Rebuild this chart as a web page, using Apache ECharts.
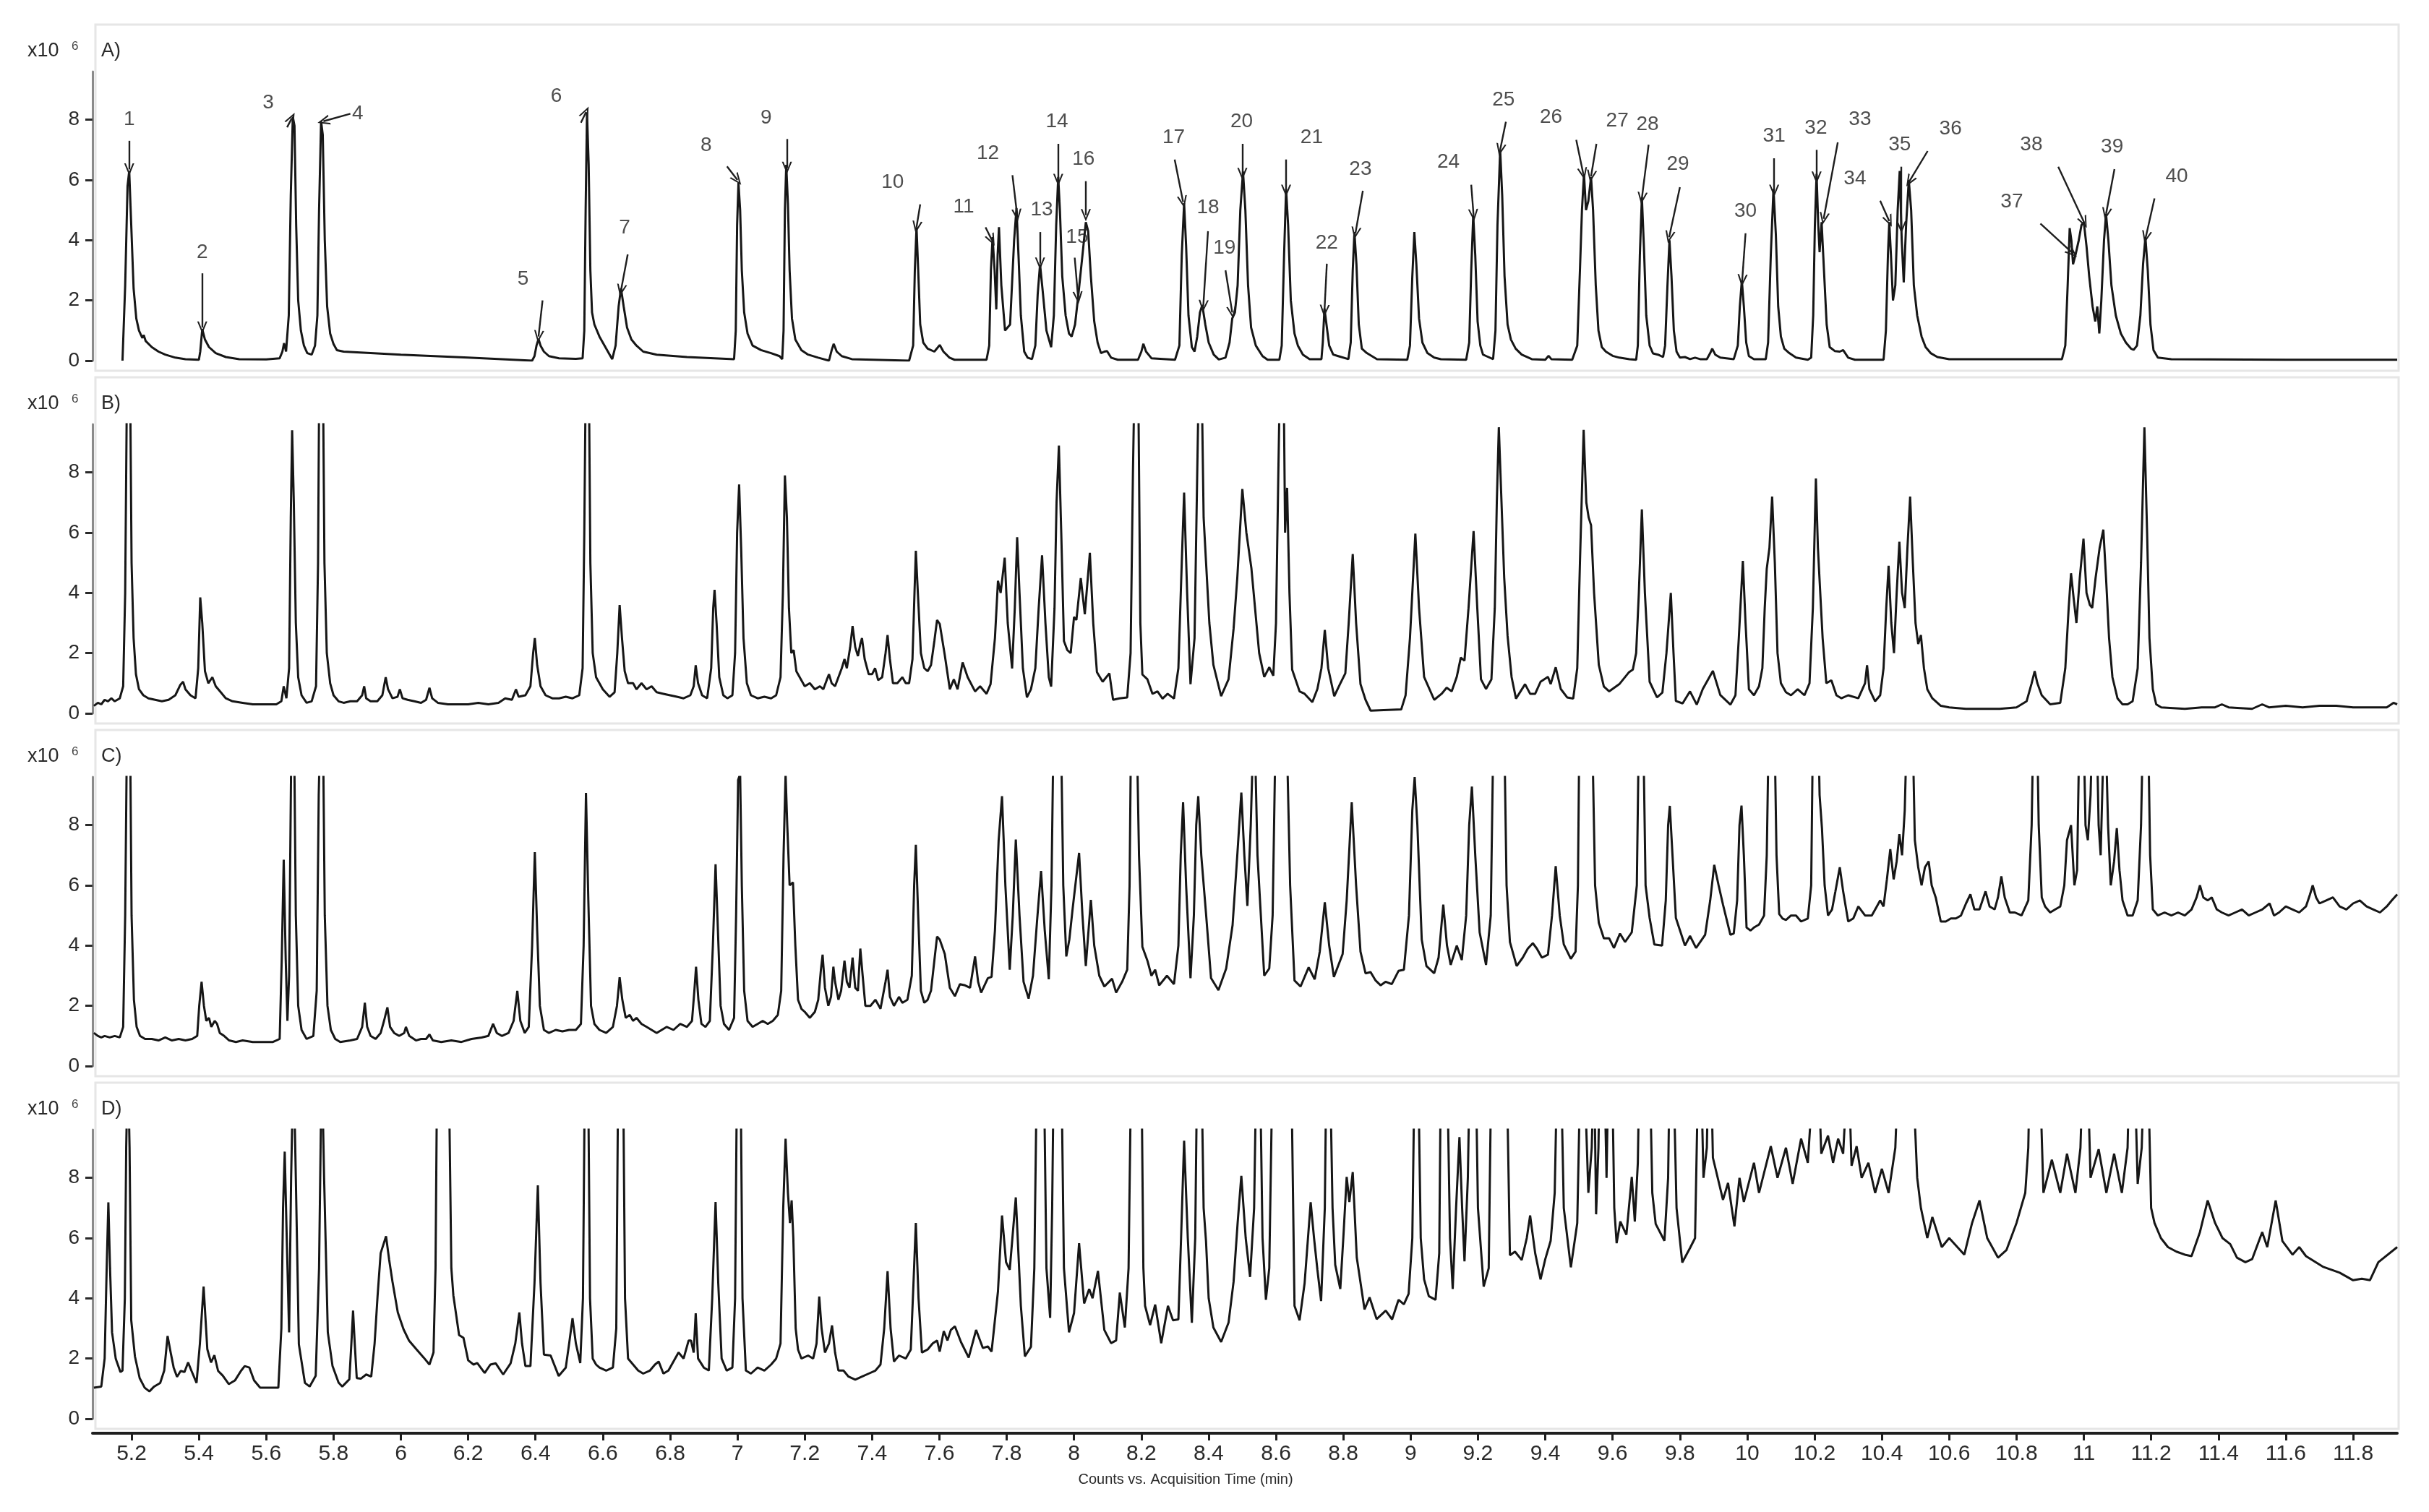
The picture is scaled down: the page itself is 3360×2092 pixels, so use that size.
<!DOCTYPE html>
<html><head><meta charset="utf-8">
<script src="https://cdn.jsdelivr.net/npm/echarts@6/dist/echarts.min.js"></script>
<style>html,body{margin:0;padding:0;background:#fff}#c{width:3360px;height:2092px}</style>
</head><body><div id="c"></div>
<script>
// ---------- tick labels ----------
const xTickValues = [5.2,5.4,5.6,5.8,6,6.2,6.4,6.6,6.8,7,7.2,7.4,7.6,7.8,8,8.2,8.4,8.6,8.8,9,9.2,9.4,9.6,9.8,10,10.2,10.4,10.6,10.8,11,11.2,11.4,11.6,11.8];
const yTickValues = [0,2,4,6,8];
const panelNames = ['A)','B)','C)','D)'];
const xAxisTitle = 'Counts vs. Acquisition Time (min)';

// ---------- chromatogram A (time min, counts x10^6) ----------
const traceA = [[5.173,0],[5.181,2.5],[5.188,5.8],[5.193,6.3],[5.199,4.5],[5.206,2.4],[5.214,1.4],[5.222,1.0],[5.232,0.75],[5.236,0.85],[5.242,0.65],[5.26,0.45],[5.28,0.3],[5.30,0.2],[5.33,0.1],[5.36,0.05],[5.40,0.03],
[5.404,0.3],[5.41,1.05],[5.418,0.7],[5.43,0.45],[5.45,0.25],[5.48,0.12],[5.52,0.05],[5.60,0.04],[5.64,0.08],
[5.648,0.3],[5.653,0.58],[5.659,0.3],[5.667,1.5],[5.673,5.5],[5.679,8.1],[5.684,7.8],[5.689,4.5],[5.695,2.0],[5.703,1.0],[5.712,0.5],[5.722,0.25],[5.735,0.2],[5.745,0.5],
[5.752,1.5],[5.757,5.0],[5.763,7.95],[5.768,7.5],[5.774,4.0],[5.781,1.8],[5.790,0.9],[5.800,0.55],[5.81,0.35],[5.83,0.3],[6.0,0.2],[6.2,0.1],[6.39,0.0],
[6.397,0.15],[6.403,0.5],[6.409,0.72],[6.415,0.5],[6.425,0.3],[6.44,0.15],[6.47,0.08],[6.52,0.06],[6.54,0.08],
[6.545,1.0],[6.549,5],[6.553,8.25],[6.558,6.5],[6.563,3.0],[6.568,1.6],[6.575,1.2],[6.59,0.8],[6.61,0.4],[6.628,0.05],
[6.638,0.5],[6.647,1.8],[6.654,2.4],[6.662,1.8],[6.672,1.1],[6.685,0.7],[6.70,0.5],[6.72,0.3],[6.76,0.2],[6.85,0.12],[6.99,0.05],
[6.995,1.0],[6.999,4.5],[7.003,5.9],[7.008,5.0],[7.013,3.0],[7.02,1.6],[7.03,0.9],[7.045,0.5],[7.07,0.35],[7.10,0.25],[7.125,0.15],[7.133,0.05],
[7.137,1.0],[7.141,5.0],[7.145,6.5],[7.15,5.2],[7.155,3.0],[7.162,1.4],[7.172,0.7],[7.19,0.35],[7.21,0.2],[7.24,0.1],[7.272,0.0],
[7.28,0.35],[7.286,0.56],[7.295,0.3],[7.31,0.15],[7.34,0.05],[7.51,0.0],
[7.522,0.5],[7.527,3.0],[7.532,4.43],[7.537,3.0],[7.543,1.2],[7.552,0.6],[7.565,0.4],[7.585,0.3],[7.601,0.52],[7.612,0.3],[7.63,0.1],[7.645,0.03],[7.74,0.03],
[7.748,0.5],[7.753,3.0],[7.758,4.1],[7.764,3.0],[7.769,1.7],[7.773,3.5],[7.777,4.43],[7.784,2.5],[7.795,1.0],[7.81,1.2],[7.822,4.0],[7.829,5.07],[7.835,3.5],[7.842,1.5],[7.852,0.3],[7.862,0.1],[7.875,0.05],
[7.885,0.5],[7.892,2.2],[7.899,3.2],[7.907,2.3],[7.918,1.0],[7.932,0.45],
[7.94,1.5],[7.947,4.5],[7.953,6.1],[7.958,5.0],[7.965,2.8],[7.975,1.5],[7.985,0.9],[7.993,0.8],[8.003,1.2],[8.012,2.1],[8.025,3.5],
[8.035,4.6],[8.042,4.3],[8.05,2.8],[8.06,1.3],[8.07,0.6],[8.08,0.25],[8.09,0.3],[8.098,0.32],[8.11,0.1],[8.13,0.03],[8.19,0.03],
[8.2,0.3],[8.206,0.56],[8.214,0.3],[8.23,0.08],[8.3,0.03],
[8.313,0.5],[8.32,3.5],[8.327,5.23],[8.333,3.8],[8.34,1.5],[8.35,0.45],[8.358,0.3],
[8.366,0.8],[8.374,1.6],[8.381,1.85],[8.39,1.2],[8.40,0.6],[8.415,0.2],[8.43,0.04],[8.45,0.1],
[8.462,0.6],[8.47,1.4],[8.478,1.6],[8.486,2.5],[8.494,5.0],[8.502,6.28],[8.509,5.0],[8.517,2.5],[8.526,1.1],[8.54,0.5],[8.56,0.15],[8.575,0.03],[8.61,0.03],
[8.617,0.5],[8.624,3.5],[8.63,5.7],[8.636,4.5],[8.644,2.0],[8.655,0.9],[8.665,0.5],[8.68,0.2],[8.7,0.05],[8.735,0.05],
[8.739,0.6],[8.744,1.73],[8.75,1.2],[8.758,0.5],[8.77,0.2],[8.785,0.15],[8.815,0.05],
[8.822,0.6],[8.828,3.0],[8.833,4.27],[8.839,3.2],[8.846,1.2],[8.855,0.4],[8.87,0.25],[8.885,0.15],[8.90,0.05],[8.99,0.03],
[8.998,0.5],[9.005,2.8],[9.011,4.27],[9.017,3.2],[9.025,1.4],[9.035,0.6],[9.05,0.25],[9.07,0.1],[9.09,0.05],[9.165,0.03],
[9.174,0.6],[9.18,3.0],[9.186,4.83],[9.192,3.5],[9.199,1.3],[9.207,0.5],[9.215,0.2],[9.225,0.15],[9.245,0.05],
[9.252,1.0],[9.258,4.5],[9.266,7.0],[9.272,5.5],[9.279,2.8],[9.288,1.2],[9.298,0.7],[9.312,0.4],[9.33,0.2],[9.36,0.05],[9.40,0.03],[9.41,0.16],[9.418,0.05],[9.48,0.03],
[9.495,0.5],[9.503,3.0],[9.509,5.0],[9.515,6.2],[9.521,5.0],[9.528,5.3],[9.536,6.1],[9.542,5.0],[9.55,2.5],[9.558,1.0],[9.568,0.45],[9.58,0.3],[9.6,0.16],[9.62,0.1],[9.65,0.05],[9.67,0.03],
[9.675,0.5],[9.681,3.5],[9.687,5.43],[9.693,3.8],[9.70,1.5],[9.71,0.5],[9.72,0.24],[9.735,0.2],[9.75,0.12],
[9.756,0.5],[9.763,2.5],[9.769,4.0],[9.775,2.8],[9.782,1.0],[9.79,0.3],[9.80,0.1],[9.815,0.12],[9.83,0.05],[9.845,0.1],[9.86,0.05],[9.88,0.05],
[9.89,0.25],[9.896,0.4],[9.905,0.2],[9.92,0.1],[9.96,0.05],
[9.972,0.5],[9.978,1.8],[9.984,2.66],[9.99,1.8],[9.997,0.6],[10.005,0.15],[10.02,0.05],[10.055,0.05],
[10.062,0.6],[10.07,3.5],[10.078,5.7],[10.085,4.2],[10.092,1.8],[10.1,0.8],[10.11,0.4],[10.125,0.25],[10.145,0.1],[10.18,0.03],[10.19,0.1],
[10.196,1.5],[10.201,4.5],[10.206,6.2],[10.211,4.5],[10.215,3.6],[10.221,4.6],[10.228,3.0],[10.236,1.2],[10.245,0.45],[10.26,0.32],[10.275,0.3],[10.285,0.35],[10.30,0.1],[10.32,0.03],[10.405,0.03],
[10.412,1.0],[10.418,3.5],[10.422,4.6],[10.427,3.5],[10.433,2.0],[10.44,2.5],[10.447,5.0],[10.453,6.3],[10.459,4.0],[10.465,2.6],[10.472,4.5],[10.48,6.0],[10.487,5.0],[10.495,2.5],[10.505,1.5],[10.518,0.8],[10.53,0.45],[10.545,0.25],[10.565,0.12],[10.6,0.05],[10.935,0.05],
[10.945,0.5],[10.952,2.5],[10.958,4.4],[10.963,4.0],[10.968,3.2],[10.975,3.5],[10.985,4.0],[10.993,4.5],[11.0,4.6],[11.008,3.8],[11.016,2.8],[11.026,1.8],[11.034,1.3],[11.04,1.8],[11.046,0.9],[11.052,2.0],[11.06,4.0],[11.066,4.87],[11.073,4.0],[11.082,2.5],[11.095,1.5],[11.11,0.9],[11.125,0.6],[11.14,0.4],[11.148,0.36],[11.158,0.5],
[11.168,1.5],[11.176,3.2],[11.183,4.1],[11.19,3.0],[11.198,1.2],[11.207,0.35],[11.22,0.1],[11.26,0.05],[11.6,0.03],[11.931,0.03]];

// ---------- chromatogram B ----------
const traceB = [[5.088,0.25],[5.10,0.35],[5.11,0.3],[5.12,0.45],[5.13,0.4],[5.14,0.5],[5.15,0.4],[5.165,0.5],[5.175,0.9],[5.181,4],[5.187,12],[5.195,12],[5.2,5],[5.206,2.5],[5.213,1.3],[5.222,0.8],[5.235,0.6],[5.25,0.5],[5.27,0.45],[5.29,0.4],[5.31,0.45],[5.33,0.6],[5.345,0.95],[5.353,1.05],[5.36,0.8],[5.375,0.6],[5.39,0.5],[5.398,1.5],[5.404,3.85],[5.41,3.0],[5.418,1.4],[5.428,1.0],[5.44,1.2],[5.45,0.9],[5.465,0.7],[5.48,0.5],[5.5,0.4],[5.53,0.35],[5.56,0.3],[5.6,0.3],[5.63,0.3],[5.645,0.4],[5.652,0.9],[5.66,0.5],[5.668,1.5],[5.673,6.5],[5.677,9.4],[5.682,7.0],[5.688,3.0],[5.695,1.2],[5.705,0.6],[5.72,0.35],[5.735,0.4],[5.748,0.9],[5.754,5.0],[5.758,12],[5.768,12],[5.773,5],[5.78,2.0],[5.79,1.0],[5.8,0.6],[5.815,0.4],[5.83,0.35],[5.85,0.4],[5.87,0.4],[5.885,0.6],[5.891,0.9],[5.897,0.5],[5.91,0.4],[5.93,0.4],[5.945,0.6],[5.955,1.2],[5.962,0.8],[5.975,0.5],[5.99,0.55],[5.997,0.8],[6.005,0.5],[6.02,0.45],[6.04,0.4],[6.06,0.35],[6.075,0.45],[6.085,0.85],[6.093,0.5],[6.11,0.35],[6.14,0.3],[6.17,0.3],[6.2,0.3],[6.23,0.35],[6.26,0.3],[6.29,0.35],[6.31,0.5],[6.33,0.45],[6.342,0.8],[6.35,0.55],[6.37,0.6],[6.385,0.9],[6.393,2.0],[6.398,2.5],[6.405,1.6],[6.415,0.9],[6.43,0.6],[6.45,0.5],[6.47,0.5],[6.49,0.55],[6.51,0.5],[6.53,0.6],[6.54,1.5],[6.545,6],[6.55,12],[6.558,12],[6.563,5],[6.57,2.0],[6.58,1.2],[6.6,0.8],[6.62,0.55],[6.635,0.7],[6.643,2.0],[6.65,3.6],[6.657,2.5],[6.665,1.4],[6.675,1.0],[6.69,1.0],[6.70,0.8],[6.715,1.0],[6.73,0.8],[6.745,0.9],[6.76,0.7],[6.78,0.65],[6.8,0.6],[6.82,0.55],[6.84,0.5],[6.86,0.6],[6.87,0.9],[6.876,1.6],[6.883,1.0],[6.895,0.6],[6.91,0.5],[6.922,1.5],[6.928,3.5],[6.932,4.1],[6.938,3.0],[6.946,1.2],[6.958,0.6],[6.97,0.5],[6.985,0.6],[6.993,2.0],[6.999,6.0],[7.005,7.6],[7.011,5.5],[7.018,2.5],[7.028,1.0],[7.04,0.6],[7.06,0.5],[7.08,0.55],[7.1,0.5],[7.115,0.6],[7.128,1.2],[7.135,4.0],[7.141,7.9],[7.147,6.5],[7.153,3.5],[7.16,2.0],[7.167,2.1],[7.175,1.4],[7.19,1.1],[7.2,0.9],[7.215,1.0],[7.23,0.8],[7.245,0.9],[7.255,0.8],[7.265,1.1],[7.272,1.3],[7.28,1.0],[7.29,0.9],[7.3,1.2],[7.31,1.5],[7.318,1.8],[7.325,1.5],[7.335,2.2],[7.342,2.9],[7.35,2.2],[7.358,1.9],[7.365,2.3],[7.37,2.5],[7.378,1.8],[7.39,1.3],[7.4,1.3],[7.409,1.5],[7.418,1.1],[7.43,1.2],[7.44,2.0],[7.446,2.6],[7.453,1.8],[7.462,1.0],[7.475,1.0],[7.49,1.2],[7.5,1.0],[7.51,1.0],[7.52,1.8],[7.526,4.0],[7.53,5.4],[7.536,4.0],[7.545,2.0],[7.555,1.5],[7.565,1.4],[7.575,1.6],[7.585,2.4],[7.593,3.1],[7.601,2.97],[7.616,1.93],[7.631,0.8],[7.643,1.13],[7.654,0.8],[7.669,1.69],[7.684,1.2],[7.706,0.73],[7.721,0.9],[7.74,0.65],[7.752,0.97],[7.765,2.5],[7.774,4.4],[7.782,4.0],[7.794,5.17],[7.803,3.0],[7.816,1.49],[7.824,3.5],[7.831,5.85],[7.838,4.0],[7.848,1.5],[7.86,0.53],[7.872,0.8],[7.885,1.5],[7.895,3.5],[7.905,5.25],[7.915,3.0],[7.925,1.2],[7.932,0.89],[7.942,3.5],[7.948,7.0],[7.955,8.89],[7.962,6.0],[7.97,2.4],[7.98,2.1],[7.99,2.0],[8.0,3.2],[8.007,3.1],[8.02,4.49],[8.032,3.29],[8.047,5.33],[8.057,3.0],[8.068,1.37],[8.085,1.05],[8.105,1.33],[8.116,0.45],[8.135,0.5],[8.158,0.53],[8.168,2.0],[8.175,8.0],[8.181,12],[8.19,12],[8.197,3.0],[8.203,1.29],[8.218,1.13],[8.233,0.65],[8.248,0.73],[8.263,0.49],[8.278,0.65],[8.297,0.49],[8.31,1.5],[8.32,5.0],[8.327,7.33],[8.336,4.0],[8.346,0.97],[8.358,2.5],[8.366,8.0],[8.372,12],[8.378,12],[8.385,6.5],[8.392,5.05],[8.402,3.0],[8.414,1.61],[8.437,0.57],[8.459,1.13],[8.474,2.81],[8.485,4.5],[8.5,7.45],[8.512,6.0],[8.527,4.81],[8.55,2.0],[8.565,1.21],[8.58,1.53],[8.592,1.25],[8.6,3.0],[8.607,8.0],[8.613,12],[8.622,12],[8.627,6.0],[8.633,7.49],[8.64,4.0],[8.648,1.45],[8.67,0.73],[8.685,0.65],[8.708,0.37],[8.723,0.81],[8.735,1.5],[8.745,2.77],[8.755,1.5],[8.773,0.57],[8.79,0.97],[8.806,1.33],[8.816,3.0],[8.828,5.29],[8.838,3.0],[8.851,0.97],[8.866,0.45],[8.881,0.09],[8.972,0.13],[8.985,0.6],[8.998,2.5],[9.014,5.97],[9.025,3.5],[9.04,1.21],[9.07,0.45],[9.092,0.65],[9.107,0.85],[9.122,0.73],[9.137,1.21],[9.149,1.85],[9.16,1.75],[9.172,3.5],[9.187,6.05],[9.198,3.5],[9.209,1.13],[9.224,0.81],[9.24,1.13],[9.25,3.5],[9.256,7.0],[9.262,9.5],[9.27,7.0],[9.278,4.5],[9.288,2.57],[9.3,1.2],[9.313,0.49],[9.34,0.97],[9.355,0.65],[9.37,0.65],[9.386,1.05],[9.408,1.21],[9.416,0.97],[9.431,1.53],[9.446,0.81],[9.465,0.53],[9.483,0.49],[9.495,1.5],[9.503,5.0],[9.514,9.41],[9.522,7.0],[9.529,6.5],[9.536,6.25],[9.545,4.0],[9.559,1.61],[9.574,0.89],[9.59,0.73],[9.62,0.97],[9.649,1.37],[9.66,1.45],[9.67,2.0],[9.678,4.0],[9.687,6.77],[9.696,4.0],[9.71,1.05],[9.732,0.53],[9.748,0.69],[9.76,2.0],[9.773,4.0],[9.781,2.0],[9.788,0.41],[9.808,0.33],[9.83,0.73],[9.85,0.29],[9.868,0.81],[9.898,1.41],[9.92,0.61],[9.95,0.29],
[9.965,0.6],[9.975,2.5],[9.987,5.06],[9.995,3.0],[10.005,0.8],[10.02,0.6],[10.035,0.9],[10.045,1.5],[10.052,3.5],[10.058,4.8],[10.066,5.5],[10.074,7.2],[10.082,5.0],[10.09,2.0],[10.1,1.0],[10.115,0.7],[10.13,0.6],[10.15,0.8],[10.17,0.6],[10.185,1.0],[10.195,3.5],[10.204,7.8],[10.21,5.5],[10.216,4.2],[10.224,2.5],[10.235,1.0],[10.25,1.1],[10.265,0.6],[10.28,0.5],[10.3,0.6],[10.33,0.5],[10.35,1.0],[10.356,1.6],[10.363,0.8],[10.38,0.4],[10.395,0.6],[10.405,1.5],[10.413,3.5],[10.42,4.9],[10.428,3.0],[10.436,2.0],[10.444,4.0],[10.452,5.7],[10.46,4.0],[10.468,3.5],[10.476,5.5],[10.484,7.2],[10.492,5.0],[10.5,3.0],[10.508,2.3],[10.516,2.6],[10.525,1.5],[10.535,0.8],[10.55,0.5],[10.575,0.25],[10.6,0.2],[10.65,0.15],[10.7,0.15],[10.75,0.15],[10.8,0.2],[10.83,0.4],[10.845,1.0],[10.854,1.4],[10.862,1.0],[10.875,0.6],[10.9,0.3],[10.93,0.35],[10.945,1.5],[10.955,3.5],[10.962,4.65],[10.97,3.8],[10.978,3.0],[10.988,4.5],[10.999,5.8],[11.008,4.0],[11.018,3.6],[11.025,3.5],[11.035,4.5],[11.047,5.5],[11.058,6.1],[11.066,4.5],[11.075,2.5],[11.085,1.2],[11.1,0.5],[11.115,0.3],[11.13,0.3],[11.145,0.4],[11.16,1.5],[11.17,5.0],[11.18,9.5],[11.188,6.0],[11.195,2.5],[11.205,0.8],[11.215,0.3],[11.23,0.2],[11.3,0.15],[11.35,0.2],[11.39,0.2],[11.41,0.3],[11.43,0.2],[11.5,0.15],[11.53,0.3],[11.55,0.2],[11.6,0.25],[11.65,0.2],[11.7,0.25],[11.75,0.25],[11.8,0.2],[11.85,0.2],[11.9,0.2],[11.92,0.35],[11.931,0.3]];

// ---------- chromatogram C ----------
const traceC = [[5.088,1.1],[5.10,1.0],[5.11,0.95],[5.12,1.0],[5.135,0.95],[5.15,1.0],[5.165,0.95],[5.175,1.3],[5.181,5],[5.187,12],[5.195,12],[5.2,5],[5.207,2.2],[5.215,1.3],[5.225,1.0],[5.24,0.9],[5.26,0.9],[5.28,0.85],[5.3,0.95],[5.32,0.85],[5.34,0.9],[5.36,0.85],[5.38,0.9],[5.395,1.0],[5.401,2.0],[5.408,2.8],[5.415,2.0],[5.422,1.5],[5.43,1.6],[5.437,1.3],[5.447,1.5],[5.454,1.4],[5.462,1.1],[5.475,1.0],[5.49,0.85],[5.51,0.8],[5.53,0.85],[5.56,0.8],[5.59,0.8],[5.62,0.8],[5.64,0.9],[5.646,3.5],[5.652,6.85],[5.658,3.5],[5.663,1.5],[5.668,3.0],[5.674,10],[5.682,12],[5.688,5],[5.695,2.0],[5.705,1.2],[5.72,0.9],[5.74,1.0],[5.75,2.5],[5.756,9],[5.762,12],[5.768,12],[5.774,5],[5.782,2.0],[5.792,1.2],[5.805,0.9],[5.82,0.8],[5.85,0.85],[5.87,0.9],[5.885,1.3],[5.893,2.1],[5.9,1.3],[5.91,1.0],[5.925,0.9],[5.94,1.1],[5.95,1.5],[5.96,1.95],[5.968,1.3],[5.98,1.1],[5.995,1.0],[6.01,1.1],[6.015,1.3],[6.025,1.0],[6.045,0.85],[6.06,0.9],[6.075,0.9],[6.085,1.05],[6.095,0.85],[6.12,0.8],[6.15,0.85],[6.18,0.8],[6.21,0.9],[6.24,0.95],[6.26,1.0],[6.274,1.4],[6.285,1.1],[6.3,1.0],[6.32,1.1],[6.335,1.5],[6.346,2.5],[6.355,1.5],[6.368,1.1],[6.38,1.3],[6.39,4.0],[6.398,7.1],[6.405,4.5],[6.413,2.0],[6.425,1.2],[6.44,1.1],[6.46,1.2],[6.48,1.15],[6.5,1.2],[6.52,1.2],[6.535,1.4],[6.543,4.0],[6.55,9.07],[6.557,5.5],[6.565,2.0],[6.575,1.4],[6.59,1.2],[6.61,1.1],[6.63,1.3],[6.642,2.0],[6.65,2.95],[6.658,2.2],[6.668,1.6],[6.68,1.7],[6.69,1.5],[6.70,1.6],[6.715,1.4],[6.73,1.3],[6.745,1.2],[6.76,1.1],[6.775,1.2],[6.79,1.3],[6.81,1.2],[6.83,1.4],[6.85,1.3],[6.865,1.5],[6.872,2.5],[6.877,3.3],[6.884,2.2],[6.893,1.4],[6.905,1.3],[6.918,1.5],[6.927,4.0],[6.935,6.7],[6.942,4.5],[6.95,2.0],[6.96,1.4],[6.975,1.2],[6.99,1.6],[6.996,5],[7.002,9.5],[7.008,9.7],[7.013,6.0],[7.02,2.5],[7.03,1.5],[7.045,1.3],[7.06,1.4],[7.075,1.5],[7.09,1.4],[7.105,1.5],[7.12,1.7],[7.13,2.5],[7.137,7.0],[7.143,9.7],[7.148,8.0],[7.155,6.0],[7.165,6.1],[7.172,4.0],[7.18,2.2],[7.19,1.9],[7.2,1.8],[7.215,1.6],[7.23,1.8],[7.24,2.2],[7.248,3.2],[7.253,3.7],[7.26,2.6],[7.27,2.0],[7.278,2.3],[7.285,3.3],[7.29,2.8],[7.3,2.2],[7.308,2.5],[7.318,3.5],[7.325,2.8],[7.333,2.6],[7.342,3.6],[7.35,2.6],[7.358,2.5],[7.365,3.9],[7.372,3.0],[7.38,2.0],[7.395,2.0],[7.41,2.2],[7.425,1.9],[7.44,2.8],[7.446,3.2],[7.453,2.3],[7.465,2.0],[7.48,2.3],[7.49,2.1],[7.505,2.2],[7.518,3.0],[7.525,6.0],[7.53,7.35],[7.537,5.0],[7.545,2.5],[7.555,2.1],[7.565,2.2],[7.575,2.5],[7.585,3.5],[7.593,4.3],[7.601,4.2],[7.616,3.72],[7.631,2.6],[7.646,2.32],[7.661,2.72],[7.676,2.68],[7.691,2.6],[7.706,3.64],[7.715,2.8],[7.724,2.44],[7.744,2.92],[7.755,2.96],[7.765,4.5],[7.776,7.5],[7.786,8.96],[7.796,6.0],[7.809,3.2],[7.818,5.0],[7.827,7.52],[7.838,5.0],[7.85,2.8],[7.865,2.24],[7.878,3.0],[7.89,4.8],[7.902,6.48],[7.913,4.5],[7.925,2.88],[7.933,6.0],[7.94,12],[7.96,12],[7.968,6],[7.977,3.64],[7.986,4.2],[7.996,5.24],[8.015,7.08],[8.025,5.0],[8.035,3.32],[8.043,4.5],[8.05,5.52],[8.06,4.0],[8.075,3.0],[8.09,2.64],[8.113,2.9],[8.125,2.44],[8.143,2.8],[8.158,3.2],[8.165,6.0],[8.17,12],[8.185,12],[8.193,7.0],[8.203,3.96],[8.218,3.5],[8.23,3.0],[8.241,3.2],[8.253,2.68],[8.276,3.0],[8.297,2.72],[8.31,4.0],[8.317,7.0],[8.324,8.76],[8.333,6.0],[8.346,2.92],[8.356,5.0],[8.363,8.0],[8.369,8.96],[8.378,7.0],[8.392,5.08],[8.407,2.92],[8.429,2.52],[8.452,3.24],[8.471,4.68],[8.485,7.0],[8.497,9.08],[8.506,7.0],[8.515,5.32],[8.525,8.0],[8.535,12],[8.545,7.0],[8.565,3.0],[8.58,3.24],[8.59,5.0],[8.6,12],[8.63,12],[8.642,6.0],[8.655,2.84],[8.673,2.64],[8.697,3.28],[8.715,2.88],[8.73,3.8],[8.745,5.44],[8.758,4.0],[8.772,2.96],[8.798,3.72],[8.81,5.5],[8.825,8.76],[8.838,6.0],[8.851,3.8],[8.866,3.08],[8.881,3.12],[8.896,2.84],[8.911,2.68],[8.926,2.8],[8.944,2.72],[8.964,3.16],[8.98,3.2],[8.995,5.0],[9.005,8.5],[9.012,9.6],[9.02,8.0],[9.033,4.2],[9.047,3.32],[9.07,3.08],[9.083,3.6],[9.097,5.36],[9.108,4.0],[9.119,3.36],[9.137,4.0],[9.152,3.52],[9.165,5.0],[9.174,8.0],[9.182,9.28],[9.192,7.0],[9.205,4.44],[9.224,3.36],[9.238,5.0],[9.247,12],[9.277,12],[9.285,6.0],[9.295,4.12],[9.315,3.32],[9.333,3.6],[9.348,3.9],[9.363,4.08],[9.375,3.9],[9.39,3.6],[9.408,3.7],[9.42,5.0],[9.431,6.64],[9.443,5.0],[9.455,4.04],[9.476,3.56],[9.49,3.8],[9.497,6.0],[9.502,12],[9.538,12],[9.548,6.0],[9.559,4.76],[9.574,4.24],[9.59,4.24],[9.604,3.92],[9.622,4.4],[9.637,4.12],[9.657,4.44],[9.672,6.0],[9.679,12],[9.69,12],[9.698,6.0],[9.71,4.92],[9.724,4.04],[9.747,4.0],[9.758,5.5],[9.765,8.0],[9.77,8.64],[9.778,7.0],[9.788,4.92],[9.815,4.0],[9.83,4.32],[9.848,3.92],[9.875,4.36],[9.89,5.5],[9.902,6.68],[9.915,6.0],[9.928,5.36],[9.95,4.36],
[9.96,4.4],[9.97,5.5],[9.977,8.0],[9.983,8.65],[9.99,7.0],[9.998,4.6],[10.01,4.5],[10.02,4.6],[10.035,4.7],[10.05,5.0],[10.058,7.0],[10.065,12],[10.08,12],[10.087,7.0],[10.095,5.05],[10.105,4.9],[10.115,4.85],[10.13,5.0],[10.145,5.0],[10.16,4.8],[10.18,4.9],[10.19,6.0],[10.196,12],[10.21,12],[10.215,9.0],[10.222,7.9],[10.23,6.0],[10.24,5.0],[10.252,5.2],[10.262,5.8],[10.275,6.6],[10.285,5.8],[10.3,4.8],[10.315,4.9],[10.33,5.3],[10.35,5.0],[10.37,5.0],[10.385,5.3],[10.395,5.5],[10.405,5.3],[10.415,6.2],[10.425,7.2],[10.435,6.2],[10.444,6.8],[10.452,7.7],[10.46,7.0],[10.468,8.5],[10.476,12],[10.49,12],[10.498,7.5],[10.508,6.6],[10.518,6.0],[10.528,6.6],[10.539,6.8],[10.548,6.0],[10.56,5.6],[10.575,4.8],[10.59,4.8],[10.605,4.9],[10.62,4.9],[10.635,5.0],[10.65,5.4],[10.663,5.7],[10.675,5.2],[10.69,5.2],[10.708,5.8],[10.72,5.3],[10.735,5.2],[10.745,5.6],[10.755,6.3],[10.765,5.6],[10.78,5.1],[10.795,5.1],[10.815,5.0],[10.835,5.5],[10.845,8.0],[10.851,12],[10.86,12],[10.866,8.0],[10.875,5.6],[10.885,5.3],[10.9,5.1],[10.915,5.2],[10.93,5.3],[10.942,6.0],[10.95,7.5],[10.962,8.0],[10.972,6.0],[10.98,6.5],[10.988,12],[10.998,12],[11.005,8.0],[11.012,7.5],[11.02,9.0],[11.027,12],[11.037,12],[11.044,8.0],[11.05,7.0],[11.057,10],[11.063,12],[11.072,8],[11.08,6.0],[11.09,6.8],[11.098,7.9],[11.106,6.5],[11.115,5.5],[11.13,5.0],[11.145,5.0],[11.16,5.5],[11.17,8.0],[11.177,12],[11.19,12],[11.197,7.0],[11.205,5.2],[11.22,5.0],[11.24,5.1],[11.26,5.0],[11.28,5.1],[11.3,5.0],[11.32,5.2],[11.335,5.6],[11.345,6.0],[11.355,5.6],[11.368,5.5],[11.38,5.6],[11.395,5.2],[11.41,5.1],[11.43,5.0],[11.45,5.1],[11.47,5.2],[11.49,5.0],[11.51,5.1],[11.53,5.2],[11.552,5.4],[11.565,5.0],[11.58,5.1],[11.6,5.3],[11.62,5.2],[11.64,5.1],[11.66,5.3],[11.672,5.7],[11.68,6.0],[11.69,5.6],[11.7,5.4],[11.72,5.5],[11.74,5.6],[11.76,5.3],[11.78,5.2],[11.8,5.4],[11.82,5.5],[11.84,5.3],[11.86,5.2],[11.88,5.1],[11.9,5.3],[11.915,5.5],[11.931,5.7]];

// ---------- chromatogram D ----------
const traceD = [[5.088,1.03],[5.11,1.07],[5.12,2.0],[5.126,5.0],[5.131,7.19],[5.136,5.0],[5.142,2.87],[5.153,1.99],[5.167,1.55],[5.173,1.6],[5.18,4.0],[5.184,9.0],[5.189,12],[5.194,9.0],[5.199,3.27],[5.21,2.07],[5.224,1.35],[5.239,1.03],[5.253,0.91],[5.267,1.07],[5.285,1.19],[5.297,1.6],[5.307,2.75],[5.317,2.15],[5.325,1.7],[5.335,1.39],[5.346,1.59],[5.357,1.55],[5.368,1.87],[5.378,1.59],[5.393,1.19],[5.403,2.5],[5.414,4.39],[5.425,2.31],[5.436,1.87],[5.446,2.11],[5.457,1.59],[5.471,1.43],[5.489,1.15],[5.507,1.27],[5.525,1.59],[5.536,1.75],[5.55,1.7],[5.564,1.27],[5.582,1.03],[5.636,1.03],[5.645,3.0],[5.65,7.0],[5.655,8.87],[5.661,6.0],[5.668,2.87],[5.674,8.0],[5.681,12],[5.688,8.0],[5.697,2.47],[5.715,1.19],[5.729,1.07],[5.747,1.43],[5.757,5.0],[5.765,12],[5.772,8.0],[5.783,2.87],[5.797,1.75],[5.815,1.2],[5.826,1.07],[5.847,1.31],[5.853,2.5],[5.858,3.59],[5.863,2.5],[5.869,1.35],[5.881,1.33],[5.897,1.47],[5.912,1.4],[5.922,2.5],[5.931,4.1],[5.94,5.5],[5.956,6.06],[5.965,5.3],[5.975,4.56],[5.991,3.53],[6.008,2.97],[6.024,2.6],[6.046,2.31],[6.068,2.03],[6.085,1.8],[6.097,2.2],[6.103,5.0],[6.108,12],[6.142,12],[6.15,5.0],[6.156,4.1],[6.173,2.78],[6.186,2.69],[6.2,1.94],[6.216,1.8],[6.227,1.85],[6.249,1.52],[6.266,1.8],[6.282,1.84],[6.304,1.47],[6.326,1.84],[6.34,2.5],[6.352,3.53],[6.36,2.5],[6.37,1.75],[6.385,1.75],[6.397,4.5],[6.407,7.75],[6.415,4.5],[6.425,2.13],[6.445,2.1],[6.469,1.42],[6.49,1.7],[6.5,2.5],[6.51,3.34],[6.52,2.5],[6.533,1.85],[6.541,4],[6.547,12],[6.556,12],[6.562,4],[6.57,2.0],[6.58,1.8],[6.59,1.7],[6.61,1.6],[6.63,1.7],[6.64,3],[6.646,12],[6.66,12],[6.666,4],[6.675,2.0],[6.69,1.8],[6.705,1.6],[6.72,1.5],[6.74,1.6],[6.755,1.8],[6.766,1.9],[6.78,1.5],[6.795,1.6],[6.81,1.9],[6.825,2.2],[6.84,2.0],[6.855,2.6],[6.862,2.6],[6.87,2.2],[6.876,3.5],[6.883,2.0],[6.9,1.7],[6.915,1.6],[6.925,4.0],[6.935,7.2],[6.943,4.5],[6.953,2.0],[6.968,1.6],[6.985,1.7],[6.993,4.0],[6.999,12],[7.009,12],[7.015,4.0],[7.025,1.6],[7.04,1.5],[7.06,1.7],[7.08,1.6],[7.1,1.8],[7.115,2.0],[7.128,2.5],[7.136,7.0],[7.143,9.3],[7.15,7.5],[7.156,6.5],[7.161,7.25],[7.166,6.0],[7.173,3.0],[7.18,2.3],[7.19,2.0],[7.21,2.1],[7.225,2.0],[7.235,2.5],[7.243,4.06],[7.25,3.0],[7.26,2.2],[7.272,2.5],[7.281,3.1],[7.29,2.2],[7.3,1.6],[7.315,1.6],[7.33,1.4],[7.35,1.3],[7.37,1.4],[7.39,1.5],[7.41,1.6],[7.425,1.8],[7.436,3.0],[7.446,4.9],[7.455,3.0],[7.465,1.9],[7.48,2.1],[7.5,2.0],[7.515,2.3],[7.523,4.5],[7.53,6.5],[7.538,4.0],[7.548,2.2],[7.565,2.3],[7.58,2.5],[7.593,2.6],[7.601,2.23],[7.613,2.91],[7.624,2.6],[7.634,2.95],[7.646,3.07],[7.664,2.55],[7.687,2.03],[7.709,2.95],[7.729,2.35],[7.744,2.4],[7.755,2.23],[7.774,4.23],[7.786,6.75],[7.798,5.2],[7.809,4.95],[7.827,7.35],[7.842,3.75],[7.854,2.07],[7.872,2.39],[7.882,5.0],[7.89,12],[7.91,12],[7.918,5.0],[7.929,3.35],[7.935,7.0],[7.94,12],[7.962,12],[7.97,5.0],[7.985,2.87],[8.0,3.51],[8.015,5.83],[8.03,3.83],[8.045,4.31],[8.055,4.0],[8.071,4.91],[8.09,2.95],[8.11,2.51],[8.125,2.6],[8.136,4.19],[8.151,3.03],[8.162,5.0],[8.17,12],[8.2,12],[8.206,5.0],[8.211,3.75],[8.226,3.11],[8.241,3.79],[8.259,2.51],[8.279,3.75],[8.294,3.27],[8.31,3.3],[8.318,6.0],[8.327,9.23],[8.338,6.0],[8.35,3.19],[8.36,6.0],[8.366,12],[8.378,12],[8.385,7.0],[8.392,5.91],[8.4,4.0],[8.414,3.03],[8.437,2.55],[8.459,3.19],[8.474,4.55],[8.486,6.5],[8.497,8.07],[8.51,6.0],[8.523,4.71],[8.535,7.0],[8.542,12],[8.552,12],[8.56,6.0],[8.57,3.95],[8.58,5.0],[8.59,12],[8.645,12],[8.655,3.75],[8.67,3.27],[8.685,4.5],[8.703,7.19],[8.713,6.0],[8.723,4.95],[8.734,3.91],[8.745,7.0],[8.75,12],[8.76,12],[8.768,7.0],[8.776,5.11],[8.791,4.31],[8.8,6.0],[8.81,8.03],[8.818,7.2],[8.828,8.19],[8.84,5.35],[8.863,3.63],[8.878,4.03],[8.899,3.31],[8.926,3.59],[8.945,3.3],[8.964,3.95],[8.98,3.8],[8.994,4.15],[9.005,6.0],[9.012,12],[9.022,12],[9.03,6.0],[9.04,4.63],[9.054,4.07],[9.074,3.95],[9.085,5.5],[9.09,12],[9.108,12],[9.117,6.0],[9.125,4.31],[9.135,7.0],[9.145,9.35],[9.153,7.0],[9.16,5.23],[9.17,8.0],[9.176,12],[9.193,12],[9.2,7.0],[9.217,4.39],[9.232,5.0],[9.24,12],[9.285,12],[9.295,5.43],[9.31,5.55],[9.33,5.27],[9.345,6.0],[9.355,6.75],[9.37,5.5],[9.386,4.63],[9.4,5.3],[9.416,5.91],[9.428,7.5],[9.436,12],[9.446,12],[9.455,7.0],[9.476,5.03],[9.495,6.5],[9.505,12],[9.515,12],[9.528,7.5],[9.538,9.0],[9.545,12],[9.551,6.79],[9.558,9.0],[9.562,12],[9.575,12],[9.582,8.0],[9.588,12],[9.598,12],[9.605,7.0],[9.612,5.83],[9.623,6.55],[9.641,6.11],[9.657,8.03],[9.666,6.55],[9.675,8.5],[9.68,12],[9.71,12],[9.718,7.5],[9.728,6.47],[9.754,5.91],[9.765,8.0],[9.77,12],[9.78,12],[9.79,7.0],[9.807,5.19],[9.83,5.67],[9.845,6.0],[9.855,12],[9.862,12],[9.87,8.0],[9.88,9.0],[9.885,12],[9.892,12],[9.898,8.67],[9.928,7.27],[9.943,7.83],[9.962,6.39],
[9.977,8.0],[9.99,7.2],[10.02,8.5],[10.035,7.5],[10.07,9.05],[10.09,8.0],[10.115,9.0],[10.135,7.8],[10.16,9.3],[10.18,8.5],[10.2,12],[10.21,12],[10.22,8.8],[10.24,9.4],[10.255,8.5],[10.27,9.3],[10.285,8.8],[10.3,12],[10.31,8.4],[10.325,9.05],[10.34,8.0],[10.36,8.5],[10.38,7.5],[10.40,8.3],[10.42,7.5],[10.44,9],[10.45,12],[10.49,12],[10.505,8.0],[10.516,7.0],[10.535,6.0],[10.55,6.7],[10.578,5.7],[10.6,6.0],[10.645,5.45],[10.668,6.5],[10.69,7.25],[10.713,6.0],[10.745,5.35],[10.77,5.6],[10.8,6.5],[10.826,7.5],[10.835,9],[10.84,12],[10.868,12],[10.88,7.5],[10.905,8.6],[10.93,7.5],[10.95,8.8],[10.975,7.5],[10.99,9],[10.998,12],[11.01,12],[11.02,8.0],[11.044,8.95],[11.067,7.5],[11.09,8.8],[11.113,7.5],[11.13,9],[11.136,12],[11.15,12],[11.16,7.8],[11.172,9],[11.18,12],[11.19,12],[11.2,7.0],[11.21,6.5],[11.229,6.0],[11.25,5.7],[11.275,5.55],[11.3,5.45],[11.32,5.4],[11.345,6.2],[11.368,7.25],[11.39,6.5],[11.412,6.0],[11.435,5.8],[11.455,5.35],[11.48,5.2],[11.5,5.3],[11.53,6.2],[11.545,5.7],[11.57,7.25],[11.59,5.9],[11.62,5.45],[11.64,5.7],[11.66,5.4],[11.71,5.05],[11.76,4.85],[11.80,4.6],[11.826,4.65],[11.85,4.6],[11.875,5.2],[11.931,5.7]];

// ---------- peak annotations (panel A) ----------
const peakLabels = ['1','2','3','4','5','6','7','8','9','10','11','12','13','14','15','16','17','18','19','20','21','22','23','24','25','26','27','28','29','30','31','32','33','34','35','36','37','38','39','40'];
const labelPos = [[5.193,8.0],[5.41,3.6],[5.606,8.57],[5.872,8.2],[6.363,2.7],[6.462,8.77],[6.665,4.4],[6.907,7.15],[7.085,8.06],[7.461,5.92],[7.672,5.11],[7.744,6.88],[7.904,5.0],[7.949,7.93],[8.009,4.1],[8.028,6.68],[8.296,7.4],[8.398,5.07],[8.447,3.74],[8.498,7.93],[8.706,7.4],[8.751,3.9],[8.851,6.36],[9.112,6.6],[9.276,8.66],[9.417,8.09],[9.614,7.97],[9.704,7.85],[9.794,6.52],[9.995,4.95],[10.08,7.45],[10.204,7.73],[10.335,8.01],[10.32,6.04],[10.453,7.17],[10.604,7.69],[10.786,5.27],[10.844,7.17],[11.084,7.09],[11.276,6.12]];
const arrowFrom = [[5.193,7.3],[5.41,2.9],[5.662,7.75],[5.85,8.2],[6.421,2.0],[6.535,7.9],[6.674,3.53],[6.969,6.45],[7.147,7.36],[7.543,5.19],[7.737,4.43],[7.817,6.16],[7.899,4.27],[7.953,7.2],[8.002,3.42],[8.035,5.96],[8.299,6.68],[8.398,4.3],[8.45,3.0],[8.50,7.2],[8.63,6.68],[8.751,3.22],[8.858,5.64],[9.18,5.84],[9.283,7.93],[9.492,7.33],[9.552,7.2],[9.707,7.17],[9.80,5.76],[9.995,4.23],[10.08,6.72],[10.206,7.0],[10.269,7.25],[10.395,5.31],[10.458,6.44],[10.536,6.96],[10.871,4.55],[10.924,6.44],[11.091,6.36],[11.21,5.39]];
const arrowTo = [[5.193,6.35],[5.41,1.1],[5.676,8.05],[5.77,7.95],[6.409,0.8],[6.55,8.25],[6.654,2.33],[7.0,6.0],[7.147,6.4],[7.532,4.43],[7.756,4.0],[7.831,4.83],[7.899,3.22],[7.953,6.0],[8.012,2.09],[8.035,4.83],[8.324,5.27],[8.384,1.81],[8.47,1.6],[8.50,6.2],[8.63,5.64],[8.744,1.65],[8.836,4.23],[9.187,4.83],[9.266,7.0],[9.513,6.2],[9.536,6.12],[9.687,5.39],[9.768,4.1],[9.985,2.66],[10.08,5.64],[10.206,6.08],[10.227,4.71],[10.422,4.63],[10.458,4.43],[10.482,5.96],[10.966,3.58],[11.001,4.59],[11.066,4.87],[11.184,4.1]];

// ---------- layout ----------
const FONT = "'Liberation Sans', Arial, Helvetica, sans-serif";
const traces = [traceA, traceB, traceC, traceD];
const GL = 128, GR = 44, GH = 400, STEP = 488, TOP0 = 99;
const X_MIN = 5.084, X_MAX = 11.931, Y_MAX = 9.6;
const tops = [0,1,2,3].map(i => TOP0 + STEP * i);

const grids = tops.map(t => ({left: GL, right: GR, top: t, height: GH, containLabel: false}));
const xAxes = tops.map((t, i) => ({
  type: 'value', gridIndex: i, min: X_MIN, max: X_MAX, show: i === 3,
  offset: 20,
  axisLine: {show: true, onZero: false, lineStyle: {color: '#1e1e1e', width: 4}},
  axisTick: {show: true, inside: false, length: 10, lineStyle: {color: '#1e1e1e', width: 3}, customValues: xTickValues},
  axisLabel: {show: true, customValues: xTickValues, fontSize: 30, color: '#2a2a2a', margin: 14, fontFamily: FONT,
    formatter: v => String(+(+v).toFixed(1))},
  splitLine: {show: false}
}));
const yAxes = tops.map((t, i) => ({
  type: 'value', gridIndex: i, min: 0, max: Y_MAX, interval: 2,
  axisLine: {show: true, lineStyle: {color: '#8a8a8a', width: 3}},
  axisTick: {show: true, inside: false, length: 10, lineStyle: {color: '#2a2a2a', width: 3}, customValues: yTickValues},
  axisLabel: {show: true, customValues: yTickValues, fontSize: 28, color: '#2a2a2a', margin: 18, fontFamily: FONT},
  splitLine: {show: false}
}));

const series = traces.map((d, i) => ({
  type: 'line', xAxisIndex: i, yAxisIndex: i, data: d,
  showSymbol: false, symbol: 'none', clip: true, smooth: false,
  lineStyle: {color: '#161616', width: 3}, silent: true, z: 3
}));

const chevron = 'path://M5,0 L10,10 L8.4,10 L5,3 L1.6,10 L0,10 Z';
series.push({
  type: 'scatter', xAxisIndex: 0, yAxisIndex: 0, silent: true,
  data: labelPos.map((p, i) => ({value: p, name: peakLabels[i]})),
  symbol: 'circle', symbolSize: 1, itemStyle: {color: 'rgba(0,0,0,0)'},
  label: {show: true, position: 'inside', formatter: p => p.name, fontSize: 28, color: '#222', fontFamily: FONT},
  markLine: {
    silent: true, animation: false, symbol: ['none', chevron], symbolSize: [14, 17],
    lineStyle: {color: '#1e1e1e', width: 2.4, type: 'solid'}, label: {show: false},
    data: arrowFrom.map((f, i) => [{coord: f}, {coord: arrowTo[i]}])
  },
  z: 5
});

const graphics = [];
tops.forEach((t, i) => {
  graphics.push({type: 'rect', z: -10, silent: true,
    shape: {x: 132, y: t - 65, width: 3186, height: 479},
    style: {fill: 'none', stroke: '#e6e6e6', lineWidth: 3}});
  graphics.push({type: 'text', silent: true, x: 38, y: t - 28,
    style: {text: 'x10', font: '27px ' + FONT, fill: '#2a2a2a', verticalAlign: 'middle', textVerticalAlign: 'middle'}});
  graphics.push({type: 'text', silent: true, x: 99, y: t - 35,
    style: {text: '6', font: '17px ' + FONT, fill: '#444', verticalAlign: 'middle', textVerticalAlign: 'middle'}});
  graphics.push({type: 'text', silent: true, x: 140, y: t - 28,
    style: {text: panelNames[i], font: '27px ' + FONT, fill: '#2a2a2a', verticalAlign: 'middle', textVerticalAlign: 'middle'}});
});
graphics.push({type: 'text', silent: true, x: 1640, y: 2047,
  style: {text: xAxisTitle, font: '20px ' + FONT, fill: '#2a2a2a', align: 'center', textAlign: 'center', verticalAlign: 'middle', textVerticalAlign: 'middle'}});

const chart = echarts.init(document.getElementById('c'), null, {renderer: 'canvas'});
chart.setOption({
  animation: false,
  backgroundColor: '#ffffff',
  textStyle: {fontFamily: FONT},
  grid: grids, xAxis: xAxes, yAxis: yAxes, series: series,
  graphic: {elements: graphics}
});
</script>
</body></html>
